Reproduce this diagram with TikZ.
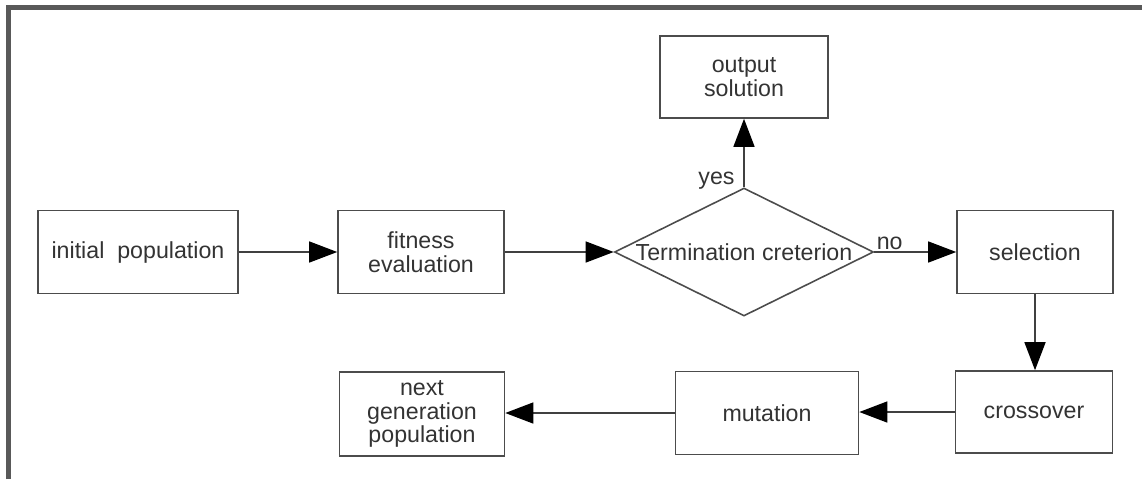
\documentclass[tikz,border=0pt]{standalone}
\usepackage{fontspec}
\setmainfont{Liberation Sans}
\usetikzlibrary{positioning}
\usetikzlibrary{arrows.meta,shapes}

\begin{document}
\begin{tikzpicture}[
  box/.style={draw=black!70, line width=0.9pt, rectangle, minimum width=#1,
    minimum height=1.66cm, inner sep=0pt, align=center, text=black!80,
    font=\fontsize{13.2}{13.6}\selectfont},
  lbl/.style={text=black!80, font=\fontsize{13.2}{13.6}\selectfont},
  arr/.style={draw=black!75, line width=0.8pt,
    -{Triangle[length=0.56cm,width=0.42cm,color=black]}}
]
\useasboundingbox (0,0) rectangle (22.84,-9.58);

% frame
\draw[black!65, line width=0.1cm] (0.17,-9.58) -- (0.17,-0.15) -- (22.84,-0.15);

% top row
\node[box=4cm] (init) at (2.76,-5.04) {initial~ population};
\node[box=3.32cm] (fit) at (8.42,-5.04) {fitness\\evaluation};
\node[draw=black!70, line width=0.9pt, diamond, minimum width=5.18cm,
  minimum height=2.56cm, inner sep=0pt,
  label={[lbl]center:Termination creterion}] (term) at (14.88,-5.04) {};
\node[box=3.36cm, minimum height=1.64cm] (out) at (14.88,-1.54) {output\\solution};
\node[box=3.12cm] (sel) at (20.7,-5.04) {selection};

% bottom row
\node[box=3.14cm, minimum height=1.64cm] (cross) at (20.68,-8.24) {crossover};
\node[box=3.66cm] (mut) at (15.34,-8.26) {mutation};
\node[box=3.3cm, minimum height=1.68cm] (next) at (8.44,-8.28) {next\\generation\\population};

% connectors
\draw[arr] (init) -- (fit);
\draw[arr] (fit) -- (term);
\draw[arr] (term.east) -- node[lbl, pos=0, anchor=south west, inner sep=1pt] (no) {no} (sel.west);
\draw[arr] (term.north) -- node[lbl, pos=0.1, left, inner sep=5pt] (yes) {yes} (out.south);
\draw[arr] (sel.south) -- (sel.south |- cross.north);
\draw[arr] (cross.west) -- (cross.west -| mut.east);
\draw[arr] (mut.west) -- (mut.west -| next.east);

\end{tikzpicture}
\end{document}
